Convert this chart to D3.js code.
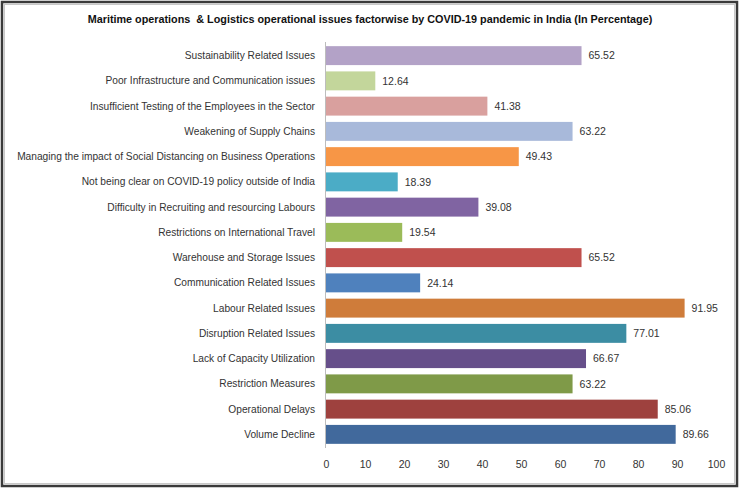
<!DOCTYPE html>
<html><head><meta charset="utf-8">
<script src="https://cdn.jsdelivr.net/npm/d3@7"></script>
<style>html,body{margin:0;padding:0;background:#fff;}svg{display:block;}</style>
</head><body>
<script>
const title = "Maritime operations  & Logistics operational issues factorwise by COVID-19 pandemic in India (In Percentage)";
const categories = [
  "Sustainability Related Issues",
  "Poor Infrastructure and Communication issues",
  "Insufficient Testing of the Employees in the Sector",
  "Weakening of Supply Chains",
  "Managing the impact of Social Distancing on Business Operations",
  "Not being clear on COVID-19 policy outside of India",
  "Difficulty in Recruiting and resourcing Labours",
  "Restrictions on International Travel",
  "Warehouse and Storage Issues",
  "Communication Related Issues",
  "Labour Related Issues",
  "Disruption Related Issues",
  "Lack of Capacity Utilization",
  "Restriction Measures",
  "Operational Delays",
  "Volume Decline"
];
const values = [65.52, 12.64, 41.38, 63.22, 49.43, 18.39, 39.08, 19.54, 65.52, 24.14, 91.95, 77.01, 66.67, 63.22, 85.06, 89.66];
const colors = ["#B3A2C7","#C3D69B","#D9A09E","#A8B9DA","#F79646","#4BACC6","#8064A2","#9BBB59","#C0504D","#4F81BD","#CF7C3A","#3C8DA3","#664F8A","#7F9A48","#9E413E","#41699C"];
const xTicks = [0,10,20,30,40,50,60,70,80,90,100];

const W = 740, H = 489;
const svg = d3.select("body").append("svg").attr("width", W).attr("height", H);
const font = "'Liberation Sans', Arial, sans-serif";

// frame
svg.append("rect").attr("x",2).attr("y",2).attr("width",W-5).attr("height",H-5)
  .attr("fill","#fff").attr("stroke","#3a3a3a").attr("stroke-width",2.5);
svg.append("rect").attr("x",4.5).attr("y",4.5).attr("width",W-10).attr("height",H-10)
  .attr("fill","none").attr("stroke","#c8c8c8").attr("stroke-width",1);

const x = d3.scaleLinear().domain([0,100]).range([326,716]);
const y = d3.scaleBand().domain(categories).range([43,447]).paddingInner(0.25).paddingOuter(0.125);

// title
const t = svg.append("text").attr("x",370).attr("y",23).attr("text-anchor","middle")
  .attr("font-family",font).attr("font-weight","bold").attr("font-size",11.5)
  .attr("xml:space","preserve").style("white-space","pre")
  .attr("fill","#111").text(title);
const tw = t.node().getComputedTextLength();
if (tw > 0) t.attr("font-size", 11.5*565/tw);

// axis line
svg.append("line").attr("x1",325.5).attr("x2",325.5).attr("y1",42).attr("y2",448)
  .attr("stroke","#bdbdbd").attr("stroke-width",1);

// bars
svg.selectAll("rect.bar").data(categories).join("rect").attr("class","bar")
  .attr("x", x(0)).attr("y", d=>y(d)).attr("height", y.bandwidth())
  .attr("width", (d,i)=>x(values[i])-x(0)).attr("fill",(d,i)=>colors[i]);

// category labels
const lab = svg.selectAll("text.cat").data(categories).join("text").attr("class","cat")
  .attr("x",315).attr("y",d=>y(d)+y.bandwidth()/2).attr("dy","0.35em")
  .attr("text-anchor","end").attr("font-family",font).attr("font-size",10.5)
  .attr("fill","#333").text(d=>d);
const lw = lab.nodes()[4].getComputedTextLength();
if (lw > 0) lab.attr("font-size", 10.5*298/lw);

// value labels
svg.selectAll("text.val").data(categories).join("text").attr("class","val")
  .attr("x",(d,i)=>x(values[i])+7).attr("y",d=>y(d)+y.bandwidth()/2).attr("dy","0.35em")
  .attr("font-family",font).attr("font-size",10.5).attr("fill","#333")
  .text((d,i)=>values[i].toFixed(2));

// x axis tick labels
const ax = svg.append("g").attr("transform","translate(0,461)")
  .call(d3.axisBottom(x).tickValues(xTicks).tickSize(0).tickPadding(0));
ax.select(".domain").remove();
ax.selectAll("text").attr("font-family",font).attr("font-size",10.5).attr("fill","#333").attr("dy","0.71em");
</script>
</body></html>
